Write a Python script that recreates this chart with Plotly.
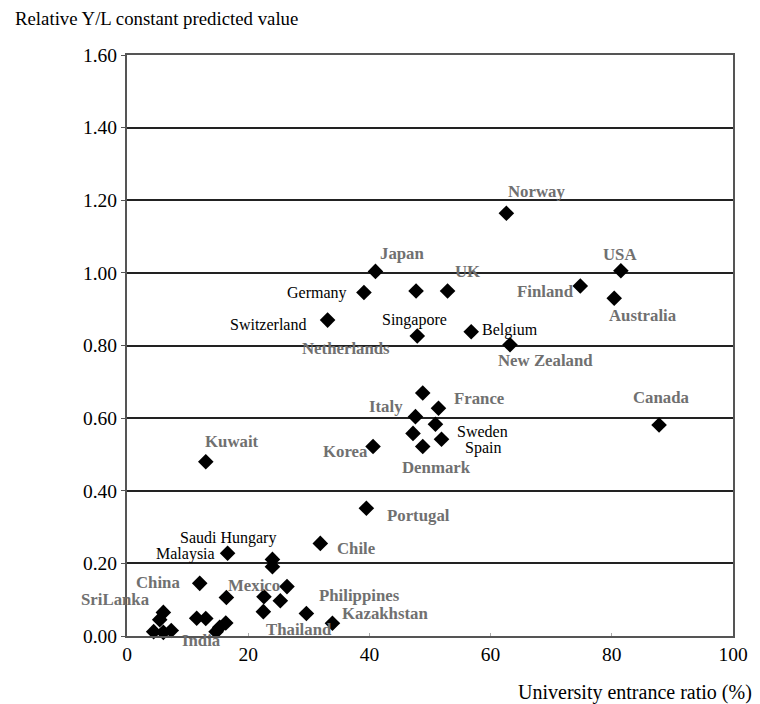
import plotly.graph_objects as go

# University entrance ratio (%) for each point
x_vals = [62.6, 41.0, 39.1, 47.7, 52.9, 33.1, 47.9, 56.8, 63.2, 81.5, 74.8, 80.4,
          48.8, 51.4, 47.6, 50.9, 47.2, 51.9, 48.8, 40.6, 87.8, 13.0, 39.5, 31.9,
          16.6, 24.0, 24.0, 12.0, 16.4, 26.4, 22.6, 25.3, 22.5, 29.6, 33.9,
          6.0, 5.4, 11.5, 13.0, 4.4, 6.0, 7.3, 14.7, 15.3, 16.3]
# Relative Y/L constant predicted value for each point
y_vals = [1.164, 1.004, 0.946, 0.950, 0.950, 0.870, 0.826, 0.838, 0.802, 1.006, 0.964, 0.930,
          0.669, 0.627, 0.604, 0.583, 0.558, 0.542, 0.522, 0.522, 0.581, 0.480, 0.352, 0.255,
          0.228, 0.211, 0.191, 0.145, 0.106, 0.136, 0.108, 0.097, 0.067, 0.062, 0.035,
          0.065, 0.045, 0.049, 0.048, 0.012, 0.010, 0.015, 0.012, 0.024, 0.036]

# Country labels
label_text = ["Norway", "Japan", "UK", "Germany", "Switzerland", "Singapore", "Netherlands",
              "Belgium", "New Zealand", "Finland", "USA", "Australia", "France", "Italy",
              "Sweden", "Spain", "Denmark", "Korea", "Kuwait", "Portugal", "Chile", "Canada",
              "Saudi Hungary", "Malaysia", "China", "SriLanka", "India", "Mexico",
              "Philippines", "Kazakhstan", "Thailand"]
label_x = [67.5, 45.5, 56.2, 31.4, 23.2, 47.5, 36.1, 63.2, 69.1, 69.1, 81.4, 85.1, 58.1, 42.7,
           58.6, 58.8, 51.1, 36.0, 17.4, 48.1, 37.8, 88.2, 16.7, 9.7, 5.1, 4.1, 12.3, 21.0,
           38.4, 42.5, 28.4]
label_y = [1.223, 1.052, 1.003, 0.945, 0.857, 0.870, 0.793, 0.843, 0.760, 0.948, 1.050, 0.882,
           0.653, 0.631, 0.562, 0.518, 0.463, 0.507, 0.537, 0.331, 0.240, 0.656, 0.270, 0.226,
           0.146, 0.100, 0.0, 0.140, 0.112, 0.062, 0.019]
label_crisp = [False, False, False, True, True, True, False, True, False, False, False, False,
               False, False, True, True, False, False, False, False, False, False, True, True,
               False, False, False, False, False, False, False]

x_ticks = [0, 20, 40, 60, 80, 100]
y_ticks = [0.0, 0.2, 0.4, 0.6, 0.8, 1.0, 1.2, 1.4, 1.6]

FONT = "Liberation Serif"

fig = go.Figure()
fig.add_trace(go.Scatter(
    x=x_vals, y=y_vals, mode="markers",
    marker=dict(symbol="diamond", size=12, color="black"),
    cliponaxis=False, hoverinfo="x+y", showlegend=False))

for t, lx, ly, crisp in zip(label_text, label_x, label_y, label_crisp):
    xanchor = "right" if t == "SriLanka" else "center"
    yshift = -4 if t == "India" else 0
    fig.add_annotation(
        x=lx, y=ly, xref="x", yref="y", text=t if crisp else "<b>" + t + "</b>",
        showarrow=False, xanchor=xanchor, yanchor="middle", yshift=yshift,
        font=dict(family=FONT, size=16 if crisp else 16.8,
                  color="black" if crisp else "#707070"))

fig.add_annotation(x=0, y=1, xref="paper", yref="paper", xshift=-114, yshift=37,
                   text="Relative Y/L constant predicted value", showarrow=False,
                   xanchor="left", yanchor="middle",
                   font=dict(family=FONT, size=18.8, color="black"))
fig.add_annotation(x=1, y=0, xref="paper", yref="paper", xshift=21, yshift=-56,
                   text="University entrance ratio (%)", showarrow=False,
                   xanchor="right", yanchor="middle",
                   font=dict(family=FONT, size=20, color="black"))

fig.update_xaxes(range=[0, 100], tickvals=x_ticks, ticktext=[str(v) for v in x_ticks],
                 showgrid=False, zeroline=False, showline=True, mirror=True,
                 linecolor="#555", linewidth=2, ticks="inside", ticklen=3,
                 tickcolor="#aaa", tickfont=dict(family=FONT, size=19.5, color="black"))
fig.update_yaxes(range=[0, 1.6], tickvals=y_ticks, ticktext=["%.2f" % v for v in y_ticks],
                 showgrid=True, gridcolor="#222", gridwidth=2, zeroline=False,
                 showline=True, mirror=True, linecolor="#555", linewidth=2,
                 ticks="outside", ticklen=4, tickcolor="#555",
                 tickfont=dict(family=FONT, size=19.5, color="black"))

fig.update_layout(width=752, height=696, margin=dict(l=119, r=23, t=47, b=68),
                  paper_bgcolor="white", plot_bgcolor="white",
                  font=dict(family=FONT))

fig.write_html("out.html")
